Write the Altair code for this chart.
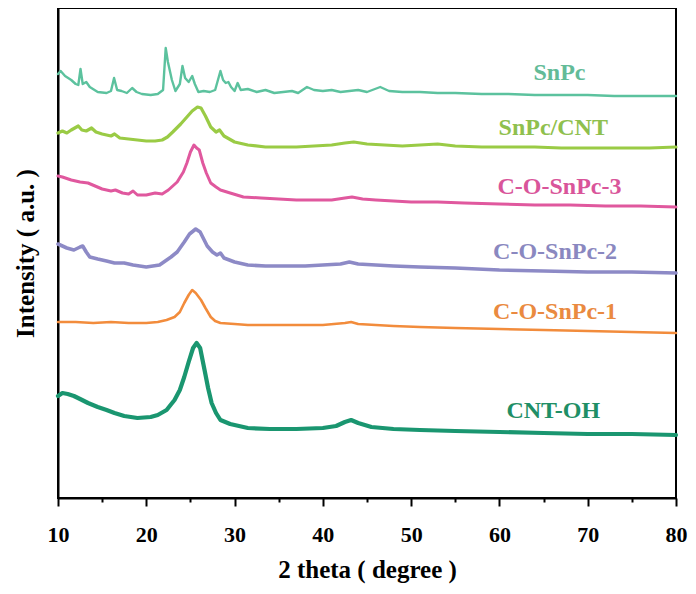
import altair as alt
import pandas as pd

# ---- data (intensity in arbitrary offset units) ----
series_names = ["SnPc", "SnPc/CNT", "C-O-SnPc-3", "C-O-SnPc-2", "C-O-SnPc-1", "CNT-OH"]
line_colors = ["#5cc29e", "#9acb45", "#e0589e", "#8d8ac6", "#f28c3c", "#1a9670"]
text_colors = ["#63bb98", "#8fc04e", "#d9559a", "#8a88c0", "#ea8a40", "#1f8f66"]
line_widths = [2.4, 3.2, 3.0, 3.6, 2.6, 4.2]

snpc_x = [10.0, 10.3, 10.8, 11.5, 12.0, 12.3, 12.55, 12.8, 13.2, 13.6, 14.5, 15.5, 16.0, 16.35, 16.7,
          17.2, 17.8, 18.4, 18.9, 19.5, 20.5, 21.3, 21.9, 22.2, 22.45, 22.65, 22.9, 23.3, 23.8, 24.1,
          24.4, 24.8, 25.2, 25.5, 25.9, 26.5, 27.2, 27.8, 28.4, 28.7, 29.0, 29.3, 29.6, 30.0, 30.35,
          30.7, 31.5, 32.5, 33.5, 34.5, 35.5, 36.5, 37.2, 38.2, 39, 40, 41, 42, 43, 44, 45, 46.5, 47.5,
          49, 51, 53, 55, 58, 61, 64, 67, 70, 73, 76, 80]
snpc_y = [424, 427, 422, 418, 414, 413, 429, 414, 416, 411, 406, 405, 407, 420, 408,
          407, 405, 410, 406, 404, 403, 404, 408, 450, 436, 428, 418, 407, 414, 432,
          420, 416, 422, 414, 406, 407, 406, 408, 427, 418, 415, 416, 411, 407, 415,
          408, 409, 406, 408, 405, 406, 407, 405, 411, 408, 407, 408, 406, 407, 408, 406, 411, 407,
          406, 406, 405, 405, 404, 404, 403, 403, 403, 402, 402, 402]

cnt_x = [10, 10.5, 11, 11.5, 12.3, 12.7, 13.2, 13.8, 14.3, 15, 16, 16.4, 17, 18, 19, 20, 21, 21.8,
         22.4, 23, 23.9, 24.6, 25.2, 25.8, 26.2, 26.7, 27.3, 27.9, 28.3, 28.8, 30, 31.5, 33.5, 35,
         37, 39, 41, 42.5, 43.5, 45, 47, 49, 51, 53, 55, 58, 61, 64, 67, 70, 74, 77, 80]
cnt_y = [365, 367, 365, 368, 372, 368, 367, 370, 366, 364, 362, 364, 360, 359, 358, 357, 357, 358,
         361, 366, 374, 381, 387, 391, 390, 382, 371, 366, 368, 362, 356, 353, 351, 351,
         351, 352, 353, 355, 356, 354, 353, 352, 353, 354, 352, 351, 351, 351, 350, 350, 350, 350, 351]

co3_x = [10, 10.5, 11.5, 12.5, 13.4, 14.2, 15, 16, 16.5, 17.3, 18, 18.5, 19, 20, 21, 21.8, 22.5,
         23.5, 24.2, 24.6, 25.0, 25.4, 25.7, 26.0, 26.4, 26.8, 27.3, 27.9, 28.4, 29.5, 31, 33, 35,
         37, 39, 41, 42.5, 43.3, 44.5, 46, 48, 50, 53, 56, 60, 64, 68, 72, 76, 80]
co3_y = [322, 321, 318, 316, 315, 312, 309, 307, 308, 305, 304, 307, 303, 303, 305, 304, 308,
         316, 326, 335, 346, 353, 350, 348, 335, 325, 315, 311, 308, 305, 301, 300, 299,
         298, 298, 298, 300, 301, 299, 298, 297, 296, 296, 295, 294, 293, 293, 292, 292, 291]

co2_x = [10, 10.5, 11, 11.8, 12.5, 12.8, 13.2, 13.6, 14.5, 15.5, 16.4, 17.5, 18.5, 20, 21.5, 22.8,
         23.5, 24.3, 24.9, 25.6, 26.1, 26.9, 27.5, 28.0, 28.4, 28.8, 30, 31.5, 33.5, 35.5, 38, 40,
         42, 43, 44, 46, 48, 51, 55, 60, 65, 70, 75, 80]
co2_y = [254, 252, 250, 248, 251, 252, 246, 241, 239, 237, 235, 235, 233, 231, 233, 241,
         246, 256, 264, 269, 266, 252, 246, 243, 245, 240, 236, 233, 232, 232, 232, 233,
         234, 236, 234, 233, 232, 231, 230, 228, 227, 226, 226, 225]

co1_x = [10, 12, 14, 16, 18, 20, 21.3, 22.3, 23.2, 23.8, 24.3, 24.8, 25.2, 25.6, 26.2, 26.7, 27.3,
         27.8, 28.4, 30, 31.5, 34, 37, 40, 42.5, 43.2, 44, 46, 48, 51, 55, 60, 65, 70, 75, 80]
co1_y = [176, 176, 175, 176, 175, 175, 176, 178, 181, 186, 195, 203, 208, 205, 198, 190, 181,
         177, 175, 174, 173, 173, 173, 173, 175, 176, 174, 173, 172, 171, 170, 169, 168, 167, 166, 165]

oh_x = [10, 10.5, 11.1, 11.8, 12.5, 13.4, 14.5, 15.5, 16.4, 17.5, 19, 20.5, 21.3, 22.3, 23.2, 23.8,
        24.3, 24.8, 25.3, 25.7, 26.1, 26.6, 27.0, 27.4, 27.9, 28.4, 29.5, 31.5, 34, 37, 40, 41.5,
        42.5, 43.2, 44, 45.5, 48, 51, 55, 60, 65, 70, 75, 80]
oh_y = [102, 105, 104, 102, 99, 95, 91, 88, 85, 82, 80, 81, 83, 88, 98, 108,
        121, 136, 150, 155, 150, 128, 110, 95, 85, 78, 74, 70, 69, 69, 70, 72,
        76, 78, 75, 71, 69, 68, 67, 66, 65, 64, 64, 63]

label_x = [66.8, 66.1, 66.8, 66.3, 66.3, 66.1]
label_y = [425, 370, 311, 246, 186, 87]

x_major = [10, 20, 30, 40, 50, 60, 70, 80]
x_minor = [15, 25, 35, 45, 55, 65, 75]

# ---- tables ----
xs = [snpc_x, cnt_x, co3_x, co2_x, co1_x, oh_x]
ys = [snpc_y, cnt_y, co3_y, co2_y, co1_y, oh_y]
rows = []
for name, xv, yv, w in zip(series_names, xs, ys, line_widths):
    for i, (a, b) in enumerate(zip(xv, yv)):
        rows.append({"series": name, "theta": a, "intensity": b, "order": i, "w": w})
df = pd.DataFrame(rows)
lab = pd.DataFrame({"series": series_names, "theta": label_x, "intensity": label_y})

FONT = "Liberation Serif"
xscale = alt.Scale(domain=[10, 80], nice=False, zero=False)
yscale = alt.Scale(domain=[0, 490], nice=False, zero=False)

y_axis = alt.Axis(
    title="Intensity ( a.u. )", labels=False, ticks=False, grid=False,
    domainColor="black", domainWidth=2, titleFont=FONT, titleFontSize=25,
    titleFontWeight="bold", titleColor="black", titlePadding=20)

lines = alt.Chart(df).mark_line(strokeJoin="round", strokeCap="round").encode(
    x=alt.X("theta:Q", scale=xscale, axis=alt.Axis(
        values=x_major, title="2 theta ( degree )", tickSize=8, tickWidth=2, tickColor="black",
        domainColor="black", domainWidth=2, labelFont=FONT, labelFontSize=22,
        labelFontWeight="bold", labelColor="black", labelPadding=18, labelFlush=False,
        titleFont=FONT, titleFontSize=25, titleFontWeight="bold", titleColor="black",
        titlePadding=12, grid=False, format="d")),
    y=alt.Y("intensity:Q", scale=yscale, axis=y_axis),
    color=alt.Color("series:N", scale=alt.Scale(domain=series_names, range=line_colors), legend=None),
    strokeWidth=alt.StrokeWidth("w:Q", scale=None),
    detail="series:N",
    order="order:Q",
)

labels = alt.Chart(lab).mark_text(font=FONT, fontSize=24, fontWeight="bold",
                                  align="center", baseline="middle").encode(
    x=alt.X("theta:Q", scale=xscale, axis=alt.Axis(
        values=x_minor, labels=False, tickSize=4, tickWidth=2, tickColor="black",
        domain=False, title=None, grid=False, orient="bottom")),
    y=alt.Y("intensity:Q", scale=yscale, axis=y_axis),
    text="series:N",
    color=alt.Color("series:N", scale=alt.Scale(domain=series_names, range=text_colors), legend=None),
)

chart = alt.layer(lines, labels).resolve_axis(x="independent").resolve_scale(color="independent").properties(
    width=618, height=490,
    background="white",
    autosize=alt.AutoSizeParams(type="none"),
    padding={"left": 50, "top": 0, "right": 12, "bottom": 86},
).configure_view(stroke="black", strokeWidth=2)

chart.save("out.html", embed_options={"renderer": "svg", "actions": False})
